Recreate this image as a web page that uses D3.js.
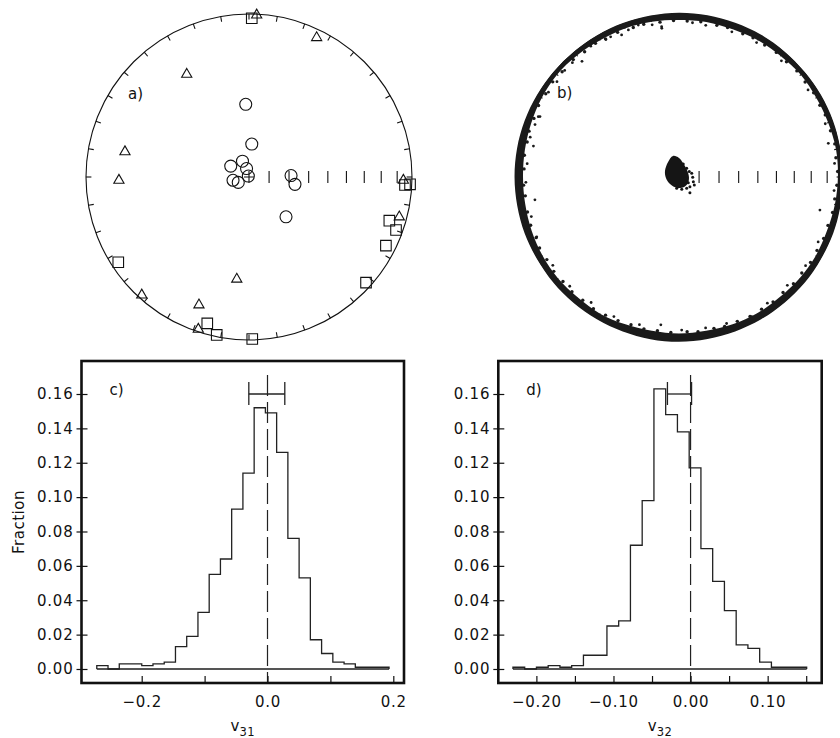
<!DOCTYPE html>
<html><head><meta charset="utf-8">
<script src="https://cdn.jsdelivr.net/npm/d3@7"></script>
<style>
body{margin:0;background:#fff}
svg{display:block}
text{font-family:"DejaVu Sans",sans-serif;fill:#111}
</style>
</head><body><svg id="chart" width="840" height="738"></svg>
<script>
// ---------- DATA ----------
// Panel a: equal-area projected positions (unit disc x, y)
const circlesA = [[-0.020,0.446],[0.017,0.202],[-0.040,0.097],[-0.112,0.067],[-0.015,0.052],[-0.004,0.006],[-0.098,-0.020],[-0.066,-0.033],[0.258,0.009],[0.282,-0.045],[0.227,-0.244]];
const trianglesA = [[0.047,1.0],[0.415,0.861],[-0.382,0.636],[-0.761,0.161],[-0.798,-0.014],[0.947,-0.014],[0.922,-0.239],[-0.075,-0.621],[-0.658,-0.718],[-0.307,-0.779],[-0.311,-0.928]];
const squaresA = [[0.017,0.974],[0.957,-0.049],[0.988,-0.045],[0.861,-0.268],[0.902,-0.325],[0.840,-0.421],[-0.802,-0.523],[0.718,-0.648],[-0.256,-0.898],[-0.198,-0.969],[0.020,-0.994]];
// net scale: colatitude ticks (deg) and rim ticks (azimuth deg)
const radialTickDeg = [10,20,30,40,50,60,70,80];
const rimTickDeg = [0,10,20,30,40,50,60,70,80,90,100,110,120,130,140,150,160,170,180,190,200,210,220,230,240,250,260,270,280,290,300,310,320,330,340,350];
// Panel b: dense rim band (angle deg, inner / outer radius fraction)
const ringDeg = [0,10,20,30,40,50,60,70,80,90,100,110,120,130,140,150,160,170,180,190,200,210,220,230,240,250,260,270,280,290,300,310,320,330,340,350];
const ringIn = [0.975,0.978,0.974,0.972,0.975,0.970,0.968,0.964,0.966,0.963,0.967,0.970,0.968,0.974,0.977,0.972,0.965,0.960,0.957,0.958,0.962,0.966,0.968,0.965,0.968,0.962,0.958,0.960,0.958,0.962,0.964,0.962,0.966,0.968,0.966,0.971];
const ringOut = [1.006,1.005,1.006,1.006,1.005,1.006,1.008,1.007,1.008,1.008,1.006,1.005,1.004,1.003,1.004,1.006,1.008,1.009,1.009,1.008,1.008,1.006,1.007,1.008,1.008,1.009,1.010,1.011,1.009,1.008,1.008,1.007,1.008,1.006,1.007,1.006];
// Panel b: points along the inner edge of the band (angle deg, radius fraction)
const fuzzB = [[2,0.974],[7,0.970],[12,0.977],[17,0.972],[23,0.975],[27,0.970],[32,0.974],[37,0.969],[42,0.973],[47,0.967],[52,0.970],[57,0.965],[62,0.967],[66,0.962],[72,0.964],[76,0.959],[82,0.962],[87,0.958],[92,0.961],[97,0.957],[103,0.962],[107,0.959],[113,0.964],[118,0.960],[122,0.967],[127,0.962],[132,0.969],[138,0.965],[143,0.970],[148,0.964],[153,0.967],[158,0.960],[163,0.962],[167,0.956],[172,0.958],[177,0.952],[183,0.955],[187,0.950],[193,0.954],[198,0.957],[203,0.952],[207,0.960],[212,0.956],[217,0.962],[222,0.958],[227,0.963],[232,0.959],[237,0.964],[242,0.960],[247,0.957],[252,0.953],[257,0.956],[262,0.952],[267,0.955],[273,0.951],[277,0.956],[283,0.953],[287,0.958],[292,0.955],[297,0.960],[302,0.956],[307,0.959],[312,0.954],[317,0.960],[322,0.956],[327,0.962],[332,0.959],[337,0.964],[342,0.961],[347,0.967],[352,0.965],[357,0.970]];
// Panel b: scattered rim points (angle deg, radius fraction)
const scatterB = [[109,0.954],[105,0.965],[96.6,0.918],[116,0.957],[124,0.968],[130,0.926],[133,0.959],[137,0.959],[156.5,0.93],[118,0.955],[96.6,0.928],[156.8,0.939],[168,0.913],[189,0.895],[202.8,0.947],[263,0.914],[271,0.939],[297.5,0.966],[346.8,0.888],[12.7,0.939],[34,0.955],[48.6,0.95],[80,0.945],[85,0.95],[70,0.948],[60,0.952],[142,0.95],[147,0.955],[175,0.935],[182,0.94],[195,0.938],[215,0.945],[225,0.948],[235,0.94],[245,0.945],[255,0.938],[280,0.94],[288,0.945],[305,0.945],[315,0.94],[325,0.948],[335,0.942],[355,0.955],[5,0.958],[20,0.955],[160,0.94],[165,0.945],[100,0.948],[112,0.94]];
// Panel b: central cluster (unit disc x, y)
const blobB = [[-0.037,0.129],[0.0,0.117],[0.025,0.086],[0.049,0.043],[0.061,0.0],[0.055,-0.037],[0.031,-0.061],[-0.012,-0.067],[-0.055,-0.043],[-0.080,-0.006],[-0.086,0.037],[-0.067,0.092]];
const blobDotsB = [[0.026,0.080],[0.047,0.053],[0.063,0.033],[0.078,0.023],[0.084,-0.002],[0.088,-0.029],[0.094,-0.049],[0.067,-0.060],[0.047,-0.069],[0.017,-0.075],[0.067,-0.096],[-0.014,-0.069],[0.057,-0.035],[0.037,-0.008]];
// Panel c: v31 histogram
const v31Start = -0.2714, v31Width = 0.01787;
const v31Frac = [0.002,0.000,0.003,0.003,0.002,0.003,0.004,0.013,0.019,0.033,0.055,0.064,0.093,0.114,0.152,0.149,0.126,0.076,0.053,0.017,0.009,0.004,0.003,0.001,0.001,0.001];
const v31Err = [-0.0297, 0.0275];
const v31Ticks = [-0.2,-0.1,0.0,0.1,0.2];
const v31Labels = [-0.2,0.0,0.2];
// Panel d: v32 histogram
const v32Start = -0.2304, v32Width = 0.01524;
const v32Frac = [0.001,0.000,0.001,0.002,0.001,0.002,0.008,0.008,0.025,0.028,0.072,0.098,0.163,0.148,0.138,0.117,0.070,0.051,0.034,0.014,0.012,0.004,0.001,0.001,0.001];
const v32Err = [-0.030, 0.0013];
const v32Ticks = [-0.20,-0.15,-0.10,-0.05,0.00,0.05,0.10,0.15];
const v32Labels = [-0.20,-0.10,0.00,0.10];
const fracTicks = [0.00,0.02,0.04,0.06,0.08,0.10,0.12,0.14,0.16];
const errY = 0.16;

// ---------- DRAW ----------
const svg = d3.select("#chart");
const R = 163;

function drawNet(cx, cy, label, lx, ly){
  const g = svg.append("g");
  const x = d3.scaleLinear().domain([-1,1]).range([cx-R, cx+R]);
  const y = d3.scaleLinear().domain([-1,1]).range([cy+R, cy-R]);
  g.append("circle").attr("cx",cx).attr("cy",cy).attr("r",R)
    .attr("fill","none").attr("stroke","#111").attr("stroke-width",1.1);
  rimTickDeg.forEach(a=>{
    const t = a*Math.PI/180;
    g.append("line")
      .attr("x1",x(Math.cos(t))).attr("y1",y(Math.sin(t)))
      .attr("x2",x(0.967*Math.cos(t))).attr("y2",y(0.967*Math.sin(t)))
      .attr("stroke","#111").attr("stroke-width",1.1);
  });
  radialTickDeg.forEach(th=>{
    const r = Math.SQRT2*Math.sin(th*Math.PI/360);
    g.append("line").attr("x1",x(r)).attr("x2",x(r))
      .attr("y1",cy-6).attr("y2",cy+6)
      .attr("stroke","#111").attr("stroke-width",1.1);
  });
  g.append("path").attr("d",`M${cx-5},${cy}H${cx+5}M${cx},${cy-6}V${cy+6}`)
    .attr("stroke","#111").attr("stroke-width",1.1);
  g.append("text").attr("x",lx).attr("y",ly).attr("font-size",15).text(label);
  return {g,x,y};
}

// Panel a
{
  const {g,x,y} = drawNet(249,177,"a)",128,99);
  g.selectAll(".c").data(circlesA).enter().append("circle")
    .attr("cx",d=>x(d[0])).attr("cy",d=>y(d[1])).attr("r",6)
    .attr("fill","none").attr("stroke","#111").attr("stroke-width",1.1);
  g.selectAll(".t").data(trianglesA).enter().append("path")
    .attr("d",d3.symbol(d3.symbolTriangle,45))
    .attr("transform",d=>`translate(${x(d[0])},${y(d[1])+1})`)
    .attr("fill","none").attr("stroke","#111").attr("stroke-width",1.1);
  g.selectAll(".s").data(squaresA).enter().append("path")
    .attr("d",d3.symbol(d3.symbolSquare,112))
    .attr("transform",d=>`translate(${x(d[0])},${y(d[1])})`)
    .attr("fill","none").attr("stroke","#111").attr("stroke-width",1.1);
}

// Panel b
{
  const cx=679, cy=177;
  const {g,x,y} = drawNet(cx,cy,"b)",557,98);
  const ring = ringDeg.map((a,i)=>({a, ri:ringIn[i], ro:ringOut[i]}));
  const area = d3.areaRadial()
    .angle(d=>(90-d.a)*Math.PI/180)
    .innerRadius(d=>d.ri*R).outerRadius(d=>d.ro*R)
    .curve(d3.curveCardinalClosed);
  g.append("path").attr("d",area(ring)).attr("transform",`translate(${cx},${cy})`)
    .attr("fill","#1a1a1a");
  const polar = (a,r)=>[x(r*Math.cos(a*Math.PI/180)), y(r*Math.sin(a*Math.PI/180))];
  g.selectAll(".fz").data(fuzzB).enter().append("circle")
    .attr("cx",d=>polar(d[0],d[1])[0]).attr("cy",d=>polar(d[0],d[1])[1])
    .attr("r",1.7).attr("fill","#1a1a1a");
  g.selectAll(".sd").data(scatterB).enter().append("circle")
    .attr("cx",d=>polar(d[0],d[1])[0]).attr("cy",d=>polar(d[0],d[1])[1])
    .attr("r",1.4).attr("fill","#1a1a1a");
  const line = d3.line().x(d=>x(d[0])).y(d=>y(d[1])).curve(d3.curveCatmullRomClosed);
  g.append("path").attr("d",line(blobB)).attr("fill","#151515");
  g.selectAll(".bd").data(blobDotsB).enter().append("circle")
    .attr("cx",d=>x(d[0])).attr("cy",d=>y(d[1])).attr("r",1.5).attr("fill","#151515");
}

// Histograms
function drawHist(o){
  const g = svg.append("g");
  const x = d3.scaleLinear().domain(o.xdom).range([o.x0,o.x1]);
  const y = d3.scaleLinear().domain([-0.00815,0.1792]).range([683,361]);
  const end = o.start + o.vals.length*o.width;
  g.append("line").attr("x1",x(o.start)).attr("x2",x(end)).attr("y1",y(0)).attr("y2",y(0))
    .attr("stroke","#555").attr("stroke-width",1.8);
  const p = d3.path();
  p.moveTo(x(o.start),y(0));
  o.vals.forEach((v,i)=>{ p.lineTo(x(o.start+i*o.width),y(v)); p.lineTo(x(o.start+(i+1)*o.width),y(v)); });
  p.lineTo(x(end),y(0));
  g.append("path").attr("d",p.toString()).attr("fill","none").attr("stroke","#222").attr("stroke-width",1.3);
  g.append("line").attr("x1",x(0)).attr("x2",x(0)).attr("y1",y(0.171)).attr("y2",y(-0.00815))
    .attr("stroke","#222").attr("stroke-width",1.2).attr("stroke-dasharray","21,6");
  g.append("line").attr("x1",x(o.err[0])).attr("x2",x(o.err[1])).attr("y1",y(errY)).attr("y2",y(errY))
    .attr("stroke","#222").attr("stroke-width",1.3);
  o.err.forEach(e=>g.append("line").attr("x1",x(e)).attr("x2",x(e))
    .attr("y1",y(errY)-12).attr("y2",y(errY)+11).attr("stroke","#222").attr("stroke-width",1.3));
  const ax = g.append("g").attr("transform","translate(0,683)")
    .call(d3.axisBottom(x).tickValues(o.ticks).tickSizeInner(-7).tickSizeOuter(0).tickPadding(13)
      .tickFormat(d=>o.labels.some(l=>Math.abs(l-d)<1e-9)?d3.format(o.fmt)(d):""));
  const ay = g.append("g").attr("transform",`translate(${o.x0},0)`)
    .call(d3.axisLeft(y).tickValues(fracTicks).tickSizeInner(5).tickSizeOuter(0).tickPadding(3)
      .tickFormat(d3.format(".2f")));
  [ax,ay].forEach(a=>{
    a.select(".domain").remove();
    a.selectAll("line").attr("stroke","#111").attr("stroke-width",1.2);
    a.selectAll("text").attr("font-size",15).attr("font-family","DejaVu Sans, sans-serif")
      .attr("letter-spacing",0.8).attr("fill","#111");
  });
  ay.selectAll(".tick line").attr("x1",6);
  g.append("rect").attr("x",o.x0).attr("y",361).attr("width",o.x1-o.x0).attr("height",322)
    .attr("fill","none").attr("stroke","#111").attr("stroke-width",2.6);
  g.append("text").attr("x",o.x0+28).attr("y",395).attr("font-size",15).text(o.panel);
  const t = g.append("text").attr("x",(o.x0+o.x1)/2).attr("y",731).attr("text-anchor","middle").attr("font-size",15);
  t.append("tspan").text("v");
  t.append("tspan").attr("dy",5).attr("font-size",11.5).attr("letter-spacing",0.5).text(o.sub);
}

drawHist({x0:81.5,x1:404,xdom:[-0.2957,0.2170],start:v31Start,width:v31Width,vals:v31Frac,err:v31Err,
  ticks:v31Ticks,labels:v31Labels,fmt:".1f",panel:"c)",sub:"31"});
drawHist({x0:498.3,x1:821.7,xdom:[-0.2494,0.1701],start:v32Start,width:v32Width,vals:v32Frac,err:v32Err,
  ticks:v32Ticks,labels:v32Labels,fmt:".2f",panel:"d)",sub:"32"});

svg.append("text").attr("transform","translate(24,522) rotate(-90)").attr("text-anchor","middle")
  .attr("font-size",15).attr("letter-spacing",0.5).text("Fraction");
</script>
</body></html>
